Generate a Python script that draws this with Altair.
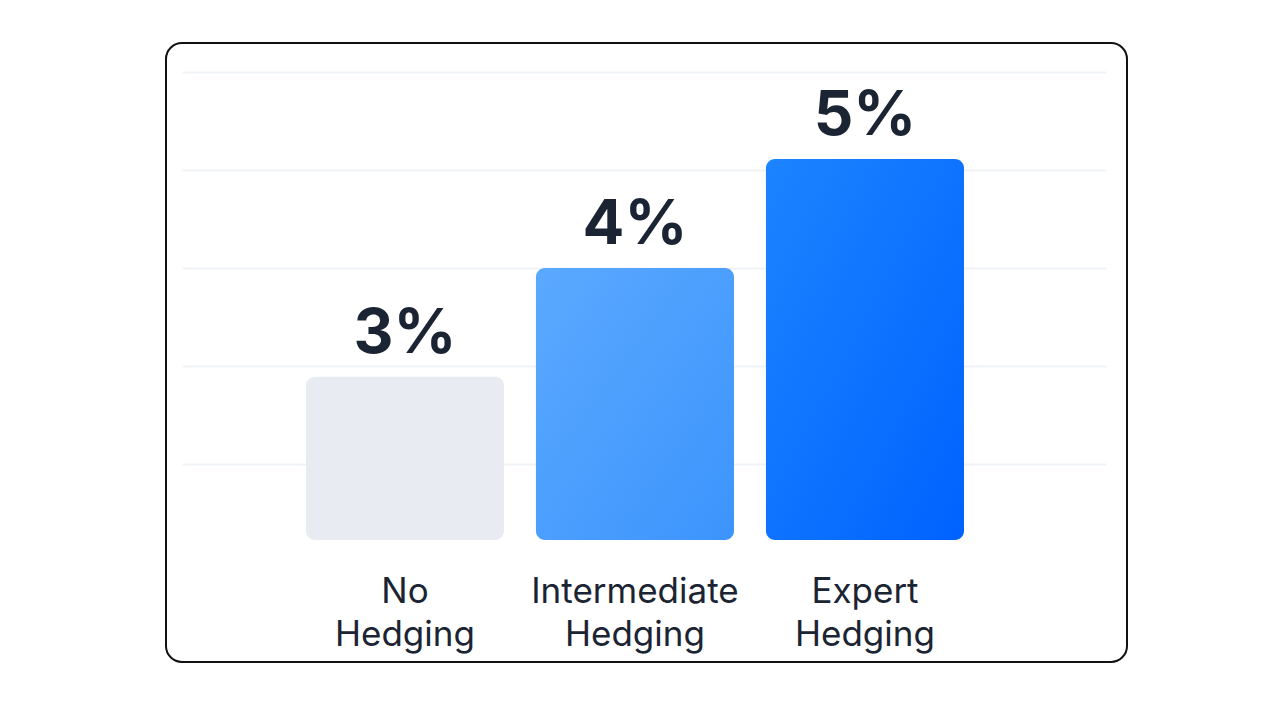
import altair as alt
import pandas as pd

categories = ["No Hedging", "Intermediate Hedging", "Expert Hedging"]
values = [3, 4, 5]
value_labels = ["3%", "4%", "5%"]
grid_values = [2.2, 3.1, 4.0, 4.9, 5.8]
y_min, y_max = 1.5, 5.8

bar_fills = {
    "No Hedging": "#E8ECF2",
    "Intermediate Hedging": alt.Gradient(
        gradient="linear", x1=0, y1=0, x2=1, y2=1,
        stops=[alt.GradientStop(color="#5BA9FF", offset=0),
               alt.GradientStop(color="#3C94FC", offset=1)]),
    "Expert Hedging": alt.Gradient(
        gradient="linear", x1=0, y1=0, x2=1, y2=1,
        stops=[alt.GradientStop(color="#1C84FF", offset=0),
               alt.GradientStop(color="#0062FF", offset=1)]),
}

df = pd.DataFrame({"category": categories, "value": values, "label": value_labels})

x_enc = alt.X(
    "category:N", sort=categories,
    scale=alt.Scale(range=[16, 940], paddingInner=0.139, paddingOuter=0.578, align=0.466),
    axis=alt.Axis(
        title=None, orient="bottom", offset=-122, domain=False, ticks=False, tickSize=0,
        labelAngle=0, labelPadding=62, labelBaseline="alphabetic", labelLimit=0,
        labelExpr="split(datum.label, ' ')", labelLineHeight=43,
        labelFont="Inter", labelFontSize=35, labelColor="#1B2433", labelFontWeight=400,
    ),
)
y_scale = alt.Scale(domain=[y_min, y_max], range=[497, 29], nice=False, zero=False)
y_axis = alt.Axis(title=None, labels=False, ticks=False, domain=False, values=grid_values,
                  grid=True, gridColor="#EFF3F8", gridWidth=2)
y_enc = alt.Y("value:Q", scale=y_scale, axis=y_axis)

base = alt.Chart(df)
layers = []
for cat in categories:
    layers.append(
        base.transform_filter(alt.datum.category == cat)
        .mark_bar(color=bar_fills[cat], cornerRadius=9)
        .encode(x=x_enc, y=y_enc, y2=alt.datum(y_min))
    )

text = base.mark_text(
    font="Inter", fontSize=62, fontWeight=700, color="#1B2433",
    baseline="alphabetic", dy=-24,
).encode(x=x_enc, y=y_enc, text="label:N")

chart = (
    alt.layer(*layers, text)
    .properties(width=961, height=619, padding={"left": 158, "top": 35, "right": 5, "bottom": 5},
                background="white")
    .configure_view(stroke="#111111", strokeWidth=2, cornerRadius=16)
)

chart.save("out.html", embed_options={"renderer": "svg", "actions": False})
